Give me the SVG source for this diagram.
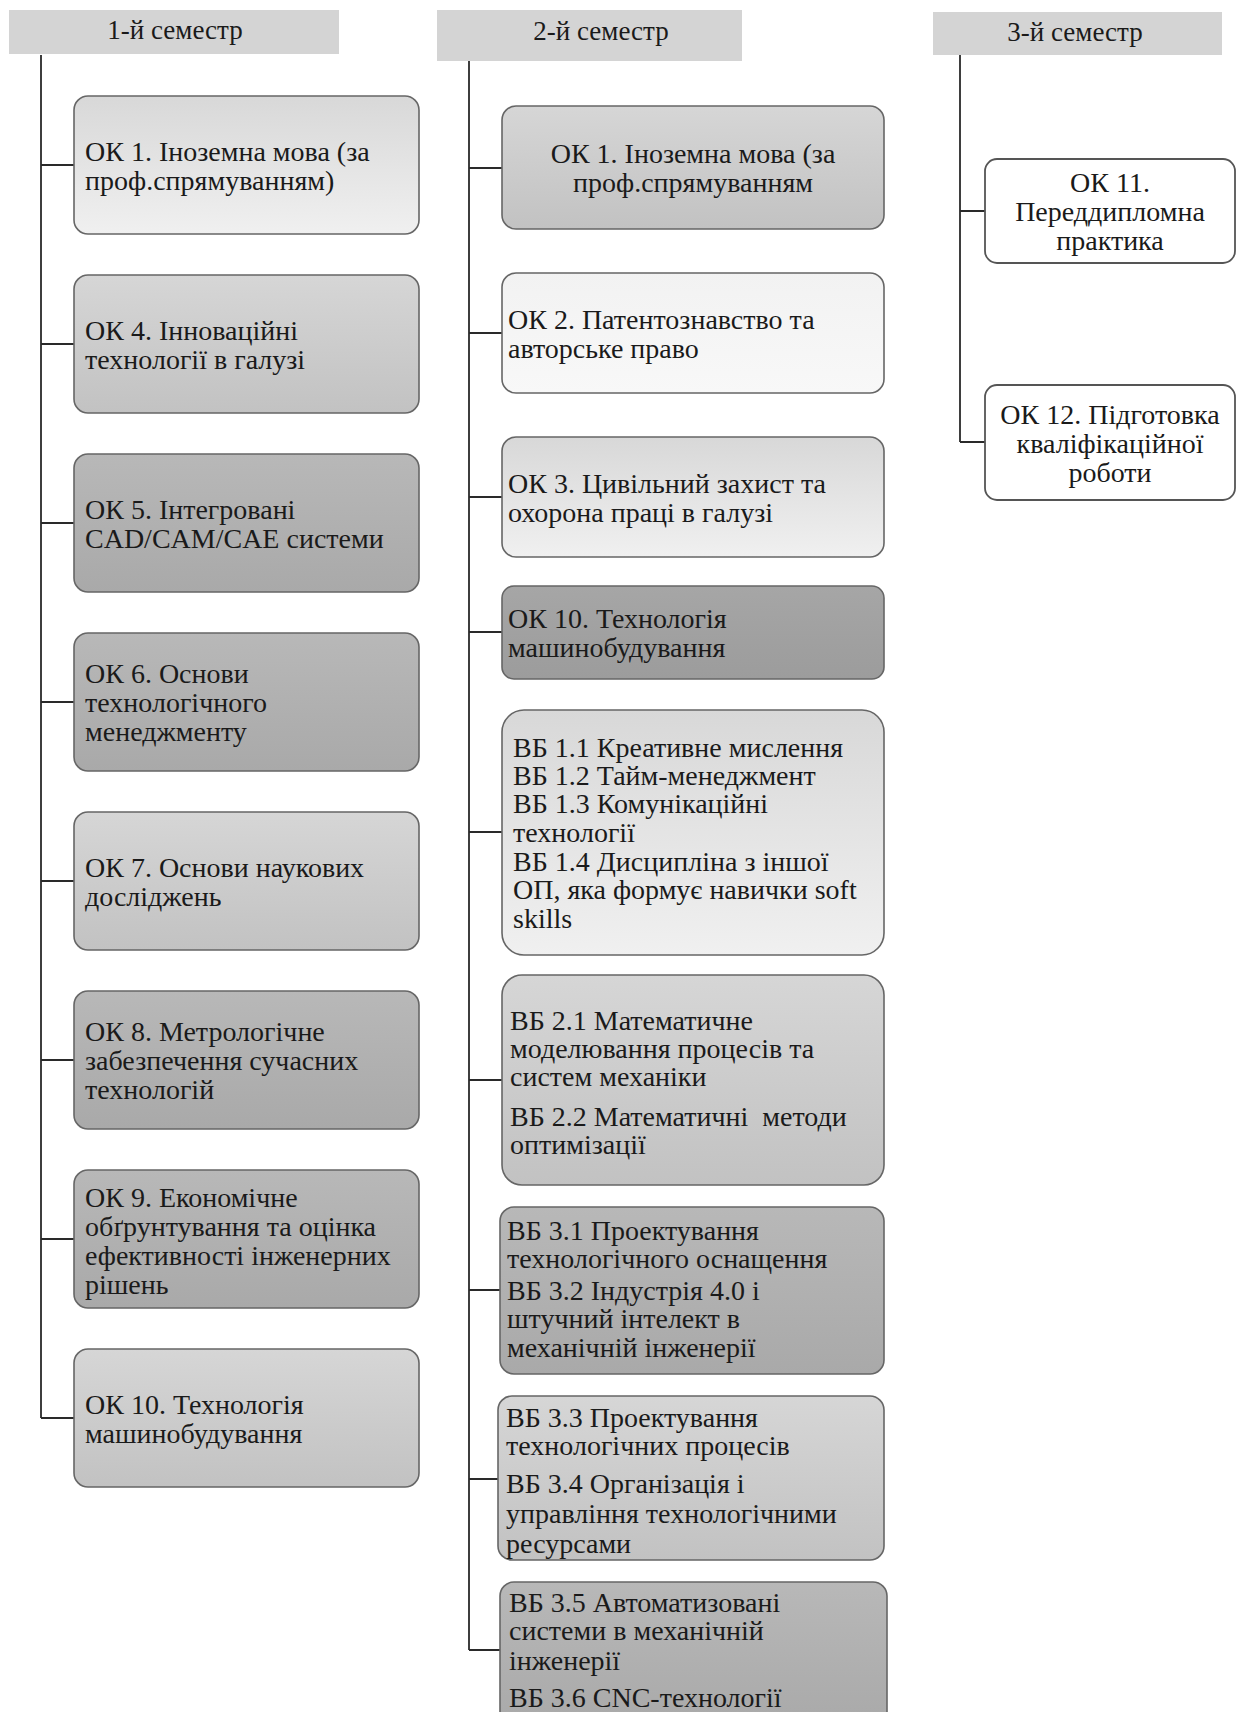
<svg xmlns="http://www.w3.org/2000/svg" width="1239" height="1712" viewBox="0 0 1239 1712">
<defs>
<style>
.hdr{fill:#d4d4d4;}
.box{stroke:#666666;stroke-width:1.6;}
.wbox{fill:#ffffff;stroke:#555555;stroke-width:1.8;}
.t{font-family:"Liberation Serif","Times New Roman",serif;font-size:28px;fill:#1a1a1a;}
.h{font-family:"Liberation Serif","Times New Roman",serif;font-size:27px;fill:#1a1a1a;text-anchor:middle;}
.c{text-anchor:middle;}
.conn{fill:none;stroke:#2a2a2a;stroke-width:1.8;}
</style>
<linearGradient id="gL" x1="0" y1="0" x2="0" y2="1"><stop offset="0" stop-color="#d8d8d8"/><stop offset="1" stop-color="#f0f0f0"/></linearGradient>
<linearGradient id="gW" x1="0" y1="0" x2="0" y2="1"><stop offset="0" stop-color="#f2f2f2"/><stop offset="1" stop-color="#f8f8f8"/></linearGradient>
<linearGradient id="gM" x1="0" y1="0" x2="0" y2="1"><stop offset="0" stop-color="#d6d6d6"/><stop offset="1" stop-color="#c2c2c2"/></linearGradient>
<linearGradient id="gD" x1="0" y1="0" x2="0" y2="1"><stop offset="0" stop-color="#b8b8b8"/><stop offset="1" stop-color="#a9a9a9"/></linearGradient>
<linearGradient id="gDD" x1="0" y1="0" x2="0" y2="1"><stop offset="0" stop-color="#a6a6a6"/><stop offset="1" stop-color="#9c9c9c"/></linearGradient>
</defs>
<rect width="1239" height="1712" fill="#ffffff"/>

<g id="connectors">
<path class="conn" d="M41 55 V1418 M41 165 H74 M41 344 H74 M41 523 H74 M41 702 H74 M41 881 H74 M41 1060 H74 M41 1239 H74 M41 1418 H74"/>
<path class="conn" d="M469 61 V1650 M469 168 H502 M469 333 H502 M469 497 H502 M469 632 H502 M469 832 H502 M469 1080 H502 M469 1290 H500 M469 1479 H498 M469 1650 H500"/>
<path class="conn" d="M960 55 V442 M960 211 H985 M960 442 H985"/>
</g>

<g id="hdr1"><rect class="hdr" x="9" y="10" width="330" height="44"/><text class="h" x="175" y="39">1-й семестр</text></g>
<g id="hdr2"><rect class="hdr" x="437" y="10" width="305" height="51"/><text class="h" x="601" y="40">2-й семестр</text></g>
<g id="hdr3"><rect class="hdr" x="933" y="12" width="289" height="43"/><text class="h" x="1075" y="41">3-й семестр</text></g>

<g id="s1ok1"><rect class="box" x="74" y="96" width="345" height="138" rx="14" fill="url(#gL)"/><text class="t" x="85" y="161">ОК 1. Іноземна мова (за</text><text class="t" x="85" y="190">проф.спрямуванням)</text></g>
<g id="s1ok4"><rect class="box" x="74" y="275" width="345" height="138" rx="14" fill="url(#gM)"/><text class="t" x="85" y="340">ОК 4. Інноваційні</text><text class="t" x="85" y="369">технології в галузі</text></g>
<g id="s1ok5"><rect class="box" x="74" y="454" width="345" height="138" rx="14" fill="url(#gD)"/><text class="t" x="85" y="519">ОК 5. Інтегровані</text><text class="t" x="85" y="548">CAD/CAM/CAE системи</text></g>
<g id="s1ok6"><rect class="box" x="74" y="633" width="345" height="138" rx="14" fill="url(#gD)"/><text class="t" x="85" y="683">ОК 6. Основи</text><text class="t" x="85" y="712">технологічного</text><text class="t" x="85" y="741">менеджменту</text></g>
<g id="s1ok7"><rect class="box" x="74" y="812" width="345" height="138" rx="14" fill="url(#gM)"/><text class="t" x="85" y="877">ОК 7. Основи наукових</text><text class="t" x="85" y="906">досліджень</text></g>
<g id="s1ok8"><rect class="box" x="74" y="991" width="345" height="138" rx="14" fill="url(#gD)"/><text class="t" x="85" y="1041">ОК 8. Метрологічне</text><text class="t" x="85" y="1070">забезпечення сучасних</text><text class="t" x="85" y="1099">технологій</text></g>
<g id="s1ok9"><rect class="box" x="74" y="1170" width="345" height="138" rx="14" fill="url(#gD)"/><text class="t" x="85" y="1207">ОК 9. Економічне</text><text class="t" x="85" y="1236">обґрунтування та оцінка</text><text class="t" x="85" y="1265">ефективності інженерних</text><text class="t" x="85" y="1294">рішень</text></g>
<g id="s1ok10"><rect class="box" x="74" y="1349" width="345" height="138" rx="14" fill="url(#gM)"/><text class="t" x="85" y="1414">ОК 10. Технологія</text><text class="t" x="85" y="1443">машинобудування</text></g>

<g id="s2ok1"><rect class="box" x="502" y="106" width="382" height="123" rx="14" fill="url(#gM)"/><text class="t c" x="693" y="163">ОК 1. Іноземна мова (за</text><text class="t c" x="693" y="192">проф.спрямуванням</text></g>
<g id="s2ok2"><rect class="box" x="502" y="273" width="382" height="120" rx="14" fill="url(#gW)"/><text class="t" x="508" y="329">ОК 2. Патентознавство та</text><text class="t" x="508" y="358">авторське право</text></g>
<g id="s2ok3"><rect class="box" x="502" y="437" width="382" height="120" rx="14" fill="url(#gL)"/><text class="t" x="508" y="493">ОК 3. Цивільний захист та</text><text class="t" x="508" y="522">охорона праці в галузі</text></g>
<g id="s2ok10"><rect class="box" x="502" y="586" width="382" height="93" rx="12" fill="url(#gDD)"/><text class="t" x="508" y="628">ОК 10. Технологія</text><text class="t" x="508" y="657">машинобудування</text></g>
<g id="s2vb1"><rect class="box" x="502" y="710" width="382" height="245" rx="22" fill="url(#gL)"/>
<text class="t" x="513" y="757">ВБ 1.1 Креативне мислення</text>
<text class="t" x="513" y="785">ВБ 1.2 Тайм-менеджмент</text>
<text class="t" x="513" y="813">ВБ 1.3 Комунікаційні</text>
<text class="t" x="513" y="842">технології</text>
<text class="t" x="513" y="871">ВБ 1.4 Дисципліна з іншої</text>
<text class="t" x="513" y="899">ОП, яка формує навички soft</text>
<text class="t" x="513" y="928">skills</text></g>
<g id="s2vb2"><rect class="box" x="502" y="975" width="382" height="210" rx="20" fill="url(#gM)"/>
<text class="t" x="510" y="1030">ВБ 2.1 Математичне</text>
<text class="t" x="510" y="1058">моделювання процесів та</text>
<text class="t" x="510" y="1086">систем механіки</text>
<text class="t" x="510" y="1126" xml:space="preserve">ВБ 2.2 Математичні  методи</text>
<text class="t" x="510" y="1154">оптимізації</text></g>
<g id="s2vb31"><rect class="box" x="500" y="1207" width="384" height="167" rx="14" fill="url(#gD)"/>
<text class="t" x="507" y="1240">ВБ 3.1 Проектування</text>
<text class="t" x="507" y="1268">технологічного оснащення</text>
<text class="t" x="507" y="1300">ВБ 3.2 Індустрія 4.0 і</text>
<text class="t" x="507" y="1328">штучний інтелект в</text>
<text class="t" x="507" y="1357">механічній інженерії</text></g>
<g id="s2vb33"><rect class="box" x="498" y="1396" width="386" height="164" rx="14" fill="url(#gM)"/>
<text class="t" x="506" y="1427">ВБ 3.3 Проектування</text>
<text class="t" x="506" y="1455">технологічних процесів</text>
<text class="t" x="506" y="1493">ВБ 3.4 Організація і</text>
<text class="t" x="506" y="1523">управління технологічними</text>
<text class="t" x="506" y="1553">ресурсами</text></g>
<g id="s2vb35"><rect class="box" x="500" y="1582" width="387" height="145" rx="14" fill="url(#gD)"/>
<text class="t" x="509" y="1612">ВБ 3.5 Автоматизовані</text>
<text class="t" x="509" y="1640">системи в механічній</text>
<text class="t" x="509" y="1670">інженерії</text>
<text class="t" x="509" y="1707">ВБ 3.6 CNC-технології</text></g>

<g id="s3ok11"><rect class="wbox" x="985" y="159" width="250" height="104" rx="12"/><text class="t c" x="1110" y="192">ОК 11.</text><text class="t c" x="1110" y="221">Переддипломна</text><text class="t c" x="1110" y="250">практика</text></g>
<g id="s3ok12"><rect class="wbox" x="985" y="385" width="250" height="115" rx="12"/><text class="t c" x="1110" y="424">ОК 12. Підготовка</text><text class="t c" x="1110" y="453">кваліфікаційної</text><text class="t c" x="1110" y="482">роботи</text></g>
</svg>
